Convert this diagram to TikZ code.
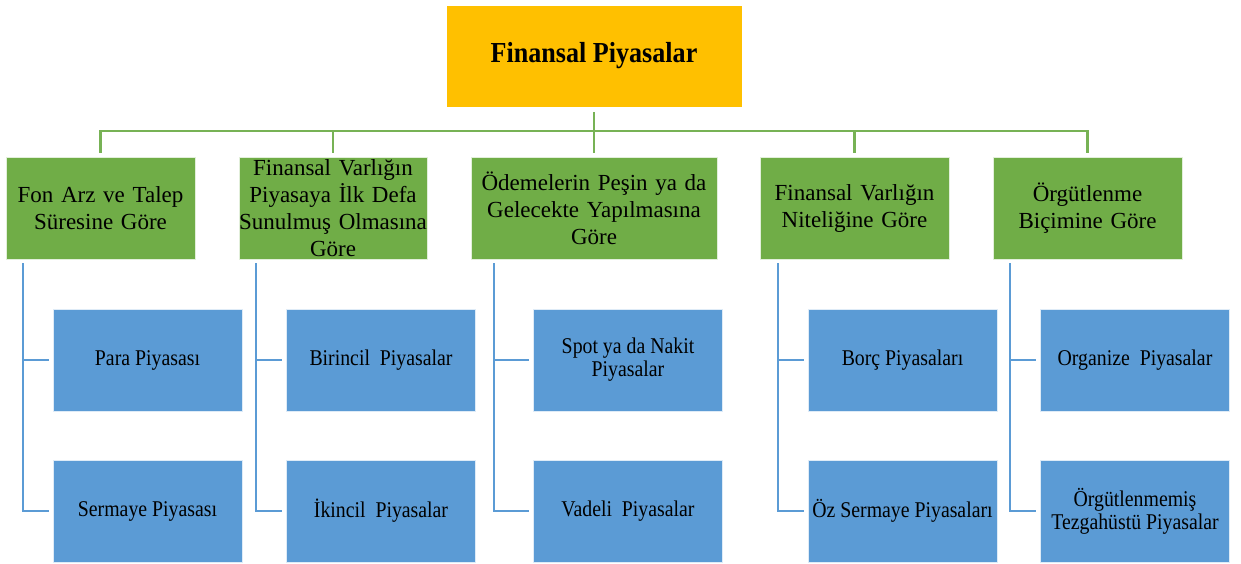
\documentclass[tikz,border=0pt]{standalone}
\usepackage{fontspec}
\setmainfont{Liberation Serif}
\newfontfamily\condfont[FakeStretch=0.88]{Liberation Serif}
\newfontfamily\topfont[FakeStretch=0.9]{Liberation Serif}
\definecolor{topfill}{HTML}{FFC000}
\definecolor{grnfill}{HTML}{70AD47}
\definecolor{blufill}{HTML}{5B9BD5}
\definecolor{grnline}{HTML}{77B255}
\definecolor{bluline}{HTML}{5B9BD5}
\tikzset{
  topbox/.style={fill=topfill, draw=white, line width=0.6pt, minimum width=296pt, minimum height=102pt, inner sep=0pt,
    font=\topfont\bfseries\fontsize{29}{33}\selectfont},
  grnbox/.style={fill=grnfill, draw=white!80!grnfill, line width=0.6pt, minimum height=102pt, inner sep=0pt, align=center,
    font=\fontsize{23}{27}\selectfont},
  blubox/.style={fill=blufill, draw=white!80!blufill, line width=0.6pt, minimum width=189pt, minimum height=102pt, inner sep=0pt, align=center,
    font=\condfont\fontsize{22.5}{23}\selectfont},
  gline/.style={draw=grnline, line width=2.6pt},
  bline/.style={draw=bluline, line width=2.2pt},
}
\begin{document}
\begin{tikzpicture}[x=1pt,y=-1pt]
\useasboundingbox (0,0) rectangle (1241,563);
% top
\node[topbox] (fin) at (594,56) {Finansal Piyasalar};
% green
\node[grnbox, minimum width=189pt, text width=185pt] (g1) at (100.5,208) {Fon Arz ve Talep\\Süresine Göre};
\node[grnbox, minimum width=188pt, text width=188pt] (g2) at (333,208) {Finansal Varlığın\\Piyasaya İlk Defa\\Sunulmuş Olmasına\\Göre};
\node[grnbox, minimum width=246pt, text width=240pt] (g3) at (594,208) {Ödemelerin Peşin ya da\\Gelecekte Yapılmasına\\Göre};
\node[grnbox, minimum width=189pt, text width=185pt] (g4) at (854.5,208) {Finansal Varlığın\\Niteliğine Göre};
\node[grnbox, minimum width=189pt, text width=185pt] (g5) at (1087.5,208) {Örgütlenme\\Biçimine Göre};
% blue
\node[blubox] (b11) at (147.5,360) {Para Piyasası};
\node[blubox] (b12) at (147.5,511) {Sermaye Piyasası};
\node[blubox] (b21) at (381,360) {Birincil\ \ Piyasalar};
\node[blubox] (b22) at (381,511) {İkincil\ \ Piyasalar};
\node[blubox] (b31) at (628,360) {Spot ya da Nakit\\Piyasalar};
\node[blubox] (b32) at (628,511) {Vadeli\ \ Piyasalar};
\node[blubox] (b41) at (902.5,360) {Borç Piyasaları};
\node[blubox] (b42) at (902.5,511) {Öz Sermaye Piyasaları};
\node[blubox] (b51) at (1135,360) {Organize\ \ Piyasalar};
\node[blubox] (b52) at (1135,511) {Örgütlenmemiş\\Tezgahüstü Piyasalar};
% green connectors
\coordinate (bus) at (0,131);
\draw[gline] ([yshift=-5pt]fin.south) -- (fin.south |- bus);
\draw[gline] ([yshift=4pt]g1.north) -- (g1.north |- bus) -- (g5.north |- bus) -- ([yshift=4pt]g5.north);
\foreach \g in {g2,g3,g4} {\draw[gline] (\g.north |- bus) -- ([yshift=4pt]\g.north);}
% blue connectors
\coordinate (v1) at (23,263);
\coordinate (v2) at (256,263);
\coordinate (v3) at (494,263);
\coordinate (v4) at (778,263);
\coordinate (v5) at (1010,263);
\foreach \i in {1,...,5} {
  \draw[bline] (v\i) |- ([xshift=-4pt]b\i2.west);
  \draw[bline] (v\i |- b\i1.west) -- ([xshift=-4pt]b\i1.west);
}
\end{tikzpicture}
\end{document}
